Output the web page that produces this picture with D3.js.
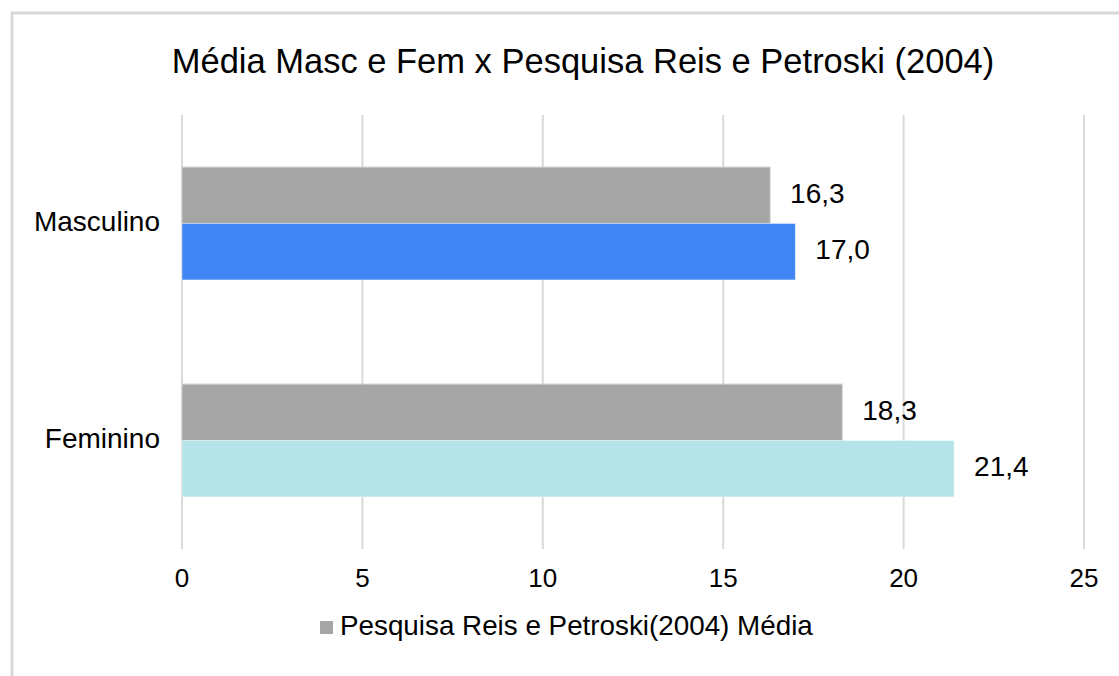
<!DOCTYPE html>
<html><head><meta charset="utf-8">
<script src="https://cdn.jsdelivr.net/npm/d3@7"></script>
<style>body{margin:0;background:#fff}svg{display:block}text{font-family:"Liberation Sans",Arial,sans-serif;fill:#000}</style>
</head><body><svg id="c" width="1119" height="676"></svg>
<script>
const title = "Média Masc e Fem x Pesquisa Reis e Petroski (2004)";
const categories = ["Masculino", "Feminino"];
const pesquisaValues = [16.3, 18.3];
const mediaValues = [17.0, 21.4];
const mediaColors = ["#4285f4", "#b5e4e8"];
const xTicks = [0, 5, 10, 15, 20, 25];
const legendLabel = "Pesquisa Reis e Petroski(2004) Média";

const svg = d3.select("#c");
// frame
svg.append("path").attr("d","M12,676V13H1119").attr("fill","none").attr("stroke","#d9d9d9").attr("stroke-width",3);

const x = d3.scaleLinear().domain([0,25]).range([182,1084]);
const y = d3.scaleBand().domain(categories).range([115,549]).paddingInner(0.48).paddingOuter(0.24);
const sub = d3.scaleBand().domain(["p","m"]).range([0,y.bandwidth()]);

// gridlines
svg.append("g").selectAll("line").data(xTicks).join("line")
  .attr("x1",d=>x(d)).attr("x2",d=>x(d)).attr("y1",115).attr("y2",549)
  .attr("stroke","#d9d9d9").attr("stroke-width",2);

// title
svg.append("text").attr("x",583).attr("y",64).attr("text-anchor","middle").attr("dominant-baseline","middle")
  .style("font-size","34.5px").text(title);

const fmt = v => d3.format(".1f")(v).replace(".",",");
const rows = categories.map((c,i)=>({c, p:pesquisaValues[i], m:mediaValues[i], col:mediaColors[i]}));
const g = svg.append("g");
rows.forEach(r=>{
  const y0 = y(r.c);
  g.append("rect").attr("x",x(0)).attr("y",y0+sub("p")).attr("width",x(r.p)-x(0)).attr("height",sub.bandwidth())
    .attr("fill","#a5a5a5").attr("stroke","#d0d0d0").attr("stroke-width",1);
  g.append("rect").attr("x",x(0)).attr("y",y0+sub("m")).attr("width",x(r.m)-x(0)).attr("height",sub.bandwidth())
    .attr("fill",r.col).attr("stroke","#ffffff").attr("stroke-opacity",0.4).attr("stroke-width",1);
  g.append("text").attr("x",x(r.p)+20).attr("y",y0+sub("p")+sub.bandwidth()/2).attr("dominant-baseline","middle")
    .style("font-size","28px").text(fmt(r.p));
  g.append("text").attr("x",x(r.m)+20).attr("y",y0+sub("m")+sub.bandwidth()/2).attr("dominant-baseline","middle")
    .style("font-size","28px").text(fmt(r.m));
  g.append("text").attr("x",160).attr("y",y0+y.bandwidth()/2).attr("text-anchor","end").attr("dominant-baseline","middle")
    .style("font-size","28px").text(r.c);
});

// x axis labels
svg.append("g").selectAll("text").data(xTicks).join("text")
  .attr("x",d=>x(d)).attr("y",580).attr("text-anchor","middle").attr("dominant-baseline","middle")
  .style("font-size","26px").text(d=>d);

// legend
svg.append("rect").attr("x",320).attr("y",621).attr("width",13).attr("height",13).attr("fill","#a5a5a5");
svg.append("text").attr("x",340).attr("y",628).attr("dominant-baseline","middle").style("font-size","27.8px").text(legendLabel);
</script></body></html>
